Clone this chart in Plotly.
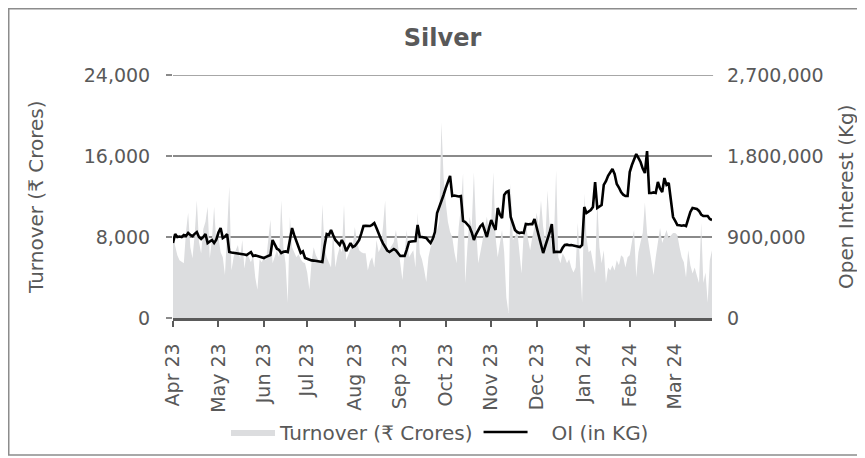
import plotly.graph_objects as go

# Month tick labels and the trading-day index where each month begins
month_labels = ["Apr 23", "May 23", "Jun 23", "Jul 23", "Aug 23", "Sep 23",
                "Oct 23", "Nov 23", "Dec 23", "Jan 24", "Feb 24", "Mar 24"]
month_start_idx = [0, 21, 42, 62, 84, 105, 126, 147, 168, 190, 211, 232]

# Daily turnover (Rs Crores), month by month
turnover_apr = [8000, 7000, 6200, 5700, 5500, 5400, 8500, 10400, 7000, 5900, 8200, 11600, 7500, 6400, 8800, 9500, 11000, 5900, 7800, 11000, 7400]
turnover_may = [8000, 6500, 6000, 4250, 9000, 13000, 4700, 6000, 6700, 7200, 5800, 7700, 4900, 6400, 6000, 5500, 6200, 4000, 2800, 5800, 5500]
turnover_jun = [6000, 5700, 8000, 9700, 5400, 6000, 6700, 6000, 11600, 7000, 5400, 1500, 10000, 7000, 6500, 6000, 6300, 5800, 5500, 5400]
turnover_jul = [4500, 2800, 5500, 7000, 6200, 5800, 5400, 11200, 7000, 6000, 5500, 5000, 8700, 5000, 6200, 7000, 6500, 11200, 5700, 6300, 6800, 7000]
turnover_aug = [9000, 7500, 6700, 6500, 6400, 6400, 4700, 5600, 6000, 5000, 7700, 6500, 7000, 9000, 11600, 6400, 6800, 7200, 7500, 8700, 7000]
turnover_sep = [5000, 3750, 6500, 8700, 6000, 6400, 6700, 5000, 10400, 6400, 5800, 4800, 3550, 6000, 7000, 7500, 8000, 8700, 9500, 19300, 13900]
turnover_oct = [11400, 9500, 8500, 8000, 6500, 5400, 9000, 11000, 14300, 3450, 7000, 10000, 9000, 14400, 9000, 5400, 6500, 7700, 9000, 10000, 8400]
turnover_nov = [9500, 14400, 8000, 6000, 7500, 8700, 6500, 2000, 500, 13300, 7700, 8000, 8700, 6500, 4400, 8400, 9400, 7800, 6700, 8000, 9000]
turnover_dec = [10400, 9000, 11600, 9000, 7500, 12600, 9000, 7000, 8000, 14600, 6000, 5400, 6400, 6000, 5400, 5800, 5000, 4500, 5000, 9400, 5400, 1500]
turnover_jan = [12300, 8000, 6500, 6700, 5500, 4400, 11600, 7000, 5400, 6700, 3450, 5000, 4700, 5200, 4700, 5700, 5200, 6200, 6000, 5000, 6000]
turnover_feb = [6200, 7500, 8700, 4000, 6500, 7500, 8400, 11400, 8400, 7000, 5400, 4250, 6000, 7500, 8900, 7400, 8000, 8700, 7900, 8200, 8400]
turnover_mar = [8400, 8200, 7000, 6000, 5500, 4000, 6700, 5200, 4400, 5000, 4200, 3450, 9400, 3450, 4500, 1500, 5700, 6700]

# Daily open interest (thousand kg), month by month
oi_apr = [833, 933, 900, 905, 900, 922, 911, 944, 922, 910, 935, 955, 900, 878, 900, 933, 833, 850, 867, 833, 870]
oi_may = [950, 1000, 889, 905, 933, 733, 728, 725, 722, 715, 718, 710, 705, 700, 715, 733, 689, 695, 690, 685, 678]
oi_jun = [667, 680, 690, 700, 867, 810, 770, 756, 722, 735, 740, 733, 850, 1000, 920, 840, 789, 722, 740, 667]
oi_jul = [655, 644, 640, 638, 635, 630, 625, 622, 800, 933, 922, 978, 920, 867, 840, 811, 867, 820, 744, 790, 833, 789]
oi_aug = [800, 830, 867, 940, 1022, 1025, 1025, 1022, 1035, 1055, 1000, 930, 880, 830, 789, 750, 733, 750, 767, 750, 720]
oi_sep = [689, 690, 689, 760, 844, 850, 855, 855, 1033, 900, 900, 895, 889, 860, 833, 880, 955, 1167, 1230, 1300, 1367]
oi_oct = [1444, 1510, 1578, 1355, 1360, 1355, 1350, 1355, 1078, 1067, 1040, 1011, 950, 867, 930, 978, 1020, 1044, 960, 900, 1000]
oi_nov = [1089, 1030, 978, 1222, 1150, 1111, 1367, 1400, 1411, 1122, 1050, 978, 955, 944, 950, 944, 1044, 1040, 1045, 1044, 1100]
oi_dec = [1000, 920, 800, 722, 800, 867, 950, 1044, 733, 735, 733, 733, 780, 811, 815, 808, 811, 805, 800, 795, 789, 811]
oi_jan = [1233, 1167, 1180, 1200, 1233, 1511, 1222, 1240, 1255, 1478, 1520, 1580, 1620, 1655, 1600, 1489, 1450, 1400, 1370, 1355, 1355]
oi_feb = [1622, 1700, 1770, 1822, 1780, 1733, 1660, 1611, 1855, 1389, 1389, 1395, 1389, 1511, 1440, 1400, 1555, 1480, 1500, 1300, 1122]
oi_mar = [1080, 1033, 1030, 1025, 1030, 1022, 1100, 1178, 1222, 1215, 1211, 1190, 1150, 1133, 1135, 1133, 1100, 1089]

turnover_ticks = [0, 8000, 16000, 24000]
oi_ticks = [0, 900000, 1800000, 2700000]

turnover = (turnover_apr + turnover_may + turnover_jun + turnover_jul + turnover_aug + turnover_sep +
            turnover_oct + turnover_nov + turnover_dec + turnover_jan + turnover_feb + turnover_mar)
oi_kg = [v * 1000 for v in (oi_apr + oi_may + oi_jun + oi_jul + oi_aug + oi_sep +
                            oi_oct + oi_nov + oi_dec + oi_jan + oi_feb + oi_mar)]
days = list(range(len(turnover)))

FONT = "DejaVu Sans"
TXT = "#595959"
GRID = "#8a8a8a"
AXIS = "#5a5a5a"

# The page body has an 8px margin, so the figure is drawn 8px in from the window edge.
OFF = 8
W, H = 865 - OFF, 458 - OFF
# plot-area geometry in window pixels
PL, PR, PT, PB = 173, 712, 75, 318
PW, PH = PR - PL, PB - PT


def px_x(x):  # window pixel -> paper x
    return (x - PL) / PW


def px_y(y):  # window pixel -> paper y
    return (PB - y) / PH


NB = "\u00a0"

fig = go.Figure()
fig.add_trace(go.Scatter(
    x=days, y=turnover, name="Turnover (₹ Crores)", mode="lines",
    fill="tozeroy", fillcolor="#dcdddf", line=dict(width=0, color="#dcdddf"),
    yaxis="y", hoverinfo="skip"))
fig.add_trace(go.Scatter(
    x=days, y=oi_kg, name=NB * 3 + "OI (in KG)", mode="lines",
    line=dict(color="#000000", width=2.6), yaxis="y2", hoverinfo="skip"))

fig.update_layout(
    template="none",
    width=W, height=H,
    margin=dict(l=PL - OFF, r=(865 - PR), t=PT - OFF, b=(458 - PB), autoexpand=False),
    paper_bgcolor="white", plot_bgcolor="white",
    font=dict(family=FONT, size=19, color=TXT),
    title=dict(text="<b>Silver</b>", x=0.5, xref="paper", xanchor="center",
               y=1 - (38 - OFF) / H, yanchor="middle",
               font=dict(family=FONT, size=24, color=TXT)),
    showlegend=True,
    legend=dict(orientation="h", x=px_x(440), xanchor="center", y=px_y(432), yanchor="middle",
                font=dict(family=FONT, size=20, color=TXT), traceorder="normal",
                itemwidth=44, bgcolor="rgba(0,0,0,0)", borderwidth=0),
    xaxis=dict(
        range=[0, len(days) - 1], tickmode="array", tickvals=month_start_idx, ticktext=month_labels,
        tickangle=-90, ticks="outside", ticklen=6, tickwidth=1.5, tickcolor=AXIS,
        showline=True, linecolor=AXIS, linewidth=2.5, showgrid=False, zeroline=False,
        automargin=False, ticklabelstandoff=9,
        tickfont=dict(family=FONT, size=19, color=TXT)),
    yaxis=dict(
        range=[turnover_ticks[0], turnover_ticks[-1]], tickmode="array", tickvals=turnover_ticks,
        tickformat=",", showgrid=True, gridcolor=GRID, gridwidth=1.5, zeroline=False,
        ticks="outside", ticklen=6, tickcolor=GRID, tickwidth=1.5,
        automargin=False, ticklabelstandoff=12,
        tickfont=dict(family=FONT, size=19, color=TXT)),
    yaxis2=dict(
        range=[oi_ticks[0], oi_ticks[-1]], tickmode="array", tickvals=oi_ticks,
        tickformat=",", overlaying="y", side="right", showgrid=False, zeroline=False,
        ticks="", automargin=False, ticklabelstandoff=14,
        tickfont=dict(family=FONT, size=19, color=TXT)),
    annotations=[
        dict(text="Turnover (₹ Crores)", textangle=-90, xref="paper", yref="paper",
             x=px_x(36), y=px_y(197), xanchor="center", yanchor="middle", showarrow=False,
             font=dict(family=FONT, size=20, color=TXT)),
        dict(text="Open Interest (Kg)", textangle=-90, xref="paper", yref="paper",
             x=px_x(846), y=px_y(196), xanchor="center", yanchor="middle", showarrow=False,
             font=dict(family=FONT, size=20, color=TXT)),
    ],
    shapes=[
        # top gridline (plotly drops gridlines sitting exactly on the plot edge)
        dict(type="line", xref="paper", yref="y", x0=0, x1=1.002,
             y0=turnover_ticks[-1], y1=turnover_ticks[-1],
             line=dict(color=GRID, width=1.5), layer="above"),
        # outer frame
        dict(type="rect", xref="paper", yref="paper",
             x0=px_x(OFF + 0.75), x1=px_x(862), y0=px_y(455), y1=px_y(OFF + 0.75),
             line=dict(color="#8c8c8c", width=1.5), fillcolor="rgba(0,0,0,0)", layer="below"),
    ],
)

fig.write_html("out.html")
